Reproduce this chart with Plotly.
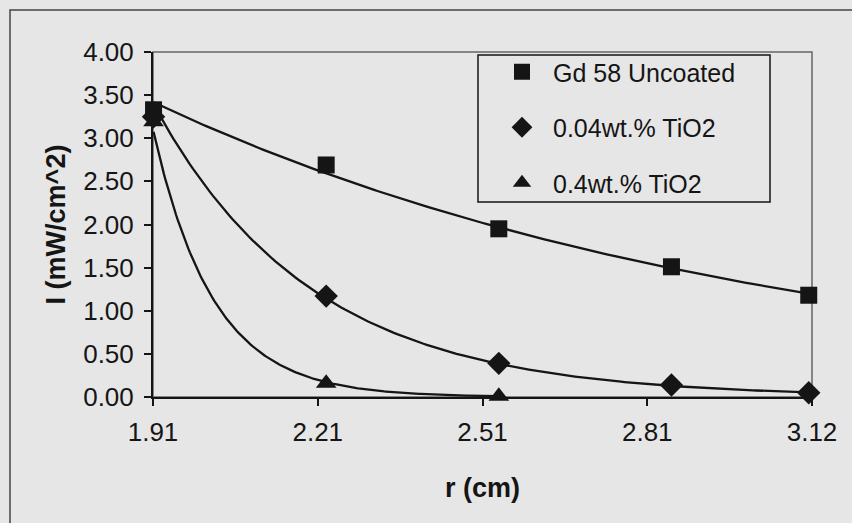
import numpy as np
import plotly.graph_objects as go

# ---- data ----
r_cm = [1.905, 2.2225, 2.54, 2.8575, 3.11]
uncoated = [3.33, 2.69, 1.95, 1.51, 1.18]
tio2_004 = [3.25, 1.17, 0.39, 0.14, 0.05]
r_cm_tri = [1.905, 2.2225, 2.54]
tio2_04 = [3.19, 0.16, 0.01]

series_names = ["Gd 58 Uncoated", "0.04wt.% TiO2", "0.4wt.% TiO2"]
x_tick_labels = ["1.91", "2.21", "2.51", "2.81", "3.12"]
y_tick_vals = [0.0, 0.5, 1.0, 1.5, 2.0, 2.5, 3.0, 3.5, 4.0]
y_tick_labels = ["0.00", "0.50", "1.00", "1.50", "2.00", "2.50", "3.00", "3.50", "4.00"]
x_range = [1.904, 3.116]
y_range = [0.0, 4.0]

BG = "#e6e6e6"
INK = "#151515"
FONT = "Arial, Liberation Sans, sans-serif"


def exp_trend(xs, ys, n=200):
    xs = np.asarray(xs, float)
    ys = np.asarray(ys, float)
    b, a = np.polyfit(xs, np.log(ys), 1)
    xx = np.linspace(xs.min(), xs.max(), n)
    return xx, np.exp(a + b * xx)


fig = go.Figure()

# exponential trendlines
for xs, ys in [(r_cm, uncoated), (r_cm, tio2_004), (r_cm_tri, tio2_04)]:
    tx, ty = exp_trend(xs, ys)
    fig.add_trace(go.Scatter(x=tx, y=ty, mode="lines",
                             line=dict(color=INK, width=2.3),
                             showlegend=False, hoverinfo="skip", cliponaxis=False))

symbols = ["square", "diamond", "triangle-up"]
sizes = [17, 18, 18]
for i, (xs, ys) in enumerate([(r_cm, uncoated), (r_cm, tio2_004), (r_cm_tri, tio2_04)]):
    fig.add_trace(go.Scatter(x=xs, y=ys, mode="markers", name=series_names[i],
                             legendgroup=f"g{i}",
                             marker=dict(symbol=symbols[i], size=sizes[i], color=INK,
                                         line=dict(width=0)),
                             cliponaxis=False))

W, H = 852, 523
L, R, T, B = 153, 852 - 812, 52, 523 - 397
pw, ph = W - L - R, H - T - B


def px_x(p):
    return (p - L) / pw


def px_y(p):
    return (H - B - p) / ph


x_tick_vals = list(np.linspace(x_range[0], x_range[1], len(x_tick_labels)))
tickfont = dict(family=FONT, size=26, color=INK)

fig.update_layout(
    width=W, height=H,
    margin=dict(l=L, r=R, t=T, b=B, pad=0),
    paper_bgcolor=BG, plot_bgcolor=BG,
    font=dict(family=FONT, size=26, color=INK),
    showlegend=True,
    legend=dict(x=px_x(491), y=px_y(49), xanchor="left", yanchor="top",
                bgcolor="rgba(0,0,0,0)", borderwidth=0,
                font=dict(size=25, family=FONT, color=INK),
                itemwidth=52, traceorder="grouped", tracegroupgap=20),
    xaxis=dict(range=x_range, tickvals=x_tick_vals, ticktext=x_tick_labels,
               tickfont=tickfont,
               showgrid=False, zeroline=False, showline=True, linecolor=INK,
               linewidth=2, ticks="outside", ticklen=7, tickwidth=1.5, tickcolor=INK,
               ticklabelstandoff=4,
               title=dict(text="<b>r (cm)</b>", font=dict(size=27, family=FONT), standoff=32)),
    yaxis=dict(range=y_range, tickvals=y_tick_vals, ticktext=y_tick_labels,
               tickfont=tickfont,
               showgrid=False, zeroline=False, showline=True, linecolor=INK,
               linewidth=2, ticks="outside", ticklen=7, tickwidth=1.5, tickcolor=INK,
               ticklabelstandoff=5,
               title=dict(text="<b>I (mW/cm^2)</b>", font=dict(size=27, family=FONT), standoff=10)),
    shapes=[
        # plot area border (top/right)
        dict(type="rect", xref="paper", yref="paper", x0=0, y0=0, x1=1, y1=1,
             line=dict(color="#666666", width=1.5), layer="below"),
        # chart area border (extends past the picture)
        dict(type="rect", xref="paper", yref="paper", x0=px_x(10), y0=px_y(10),
             x1=px_x(900), y1=px_y(600), line=dict(color="#444444", width=1.5), layer="below"),
        # legend box
        dict(type="rect", xref="paper", yref="paper", x0=px_x(478), y0=px_y(55),
             x1=px_x(770), y1=px_y(202), line=dict(color=INK, width=1.5),
             fillcolor=BG, layer="below"),
    ],
)

fig.write_html("out.html")
